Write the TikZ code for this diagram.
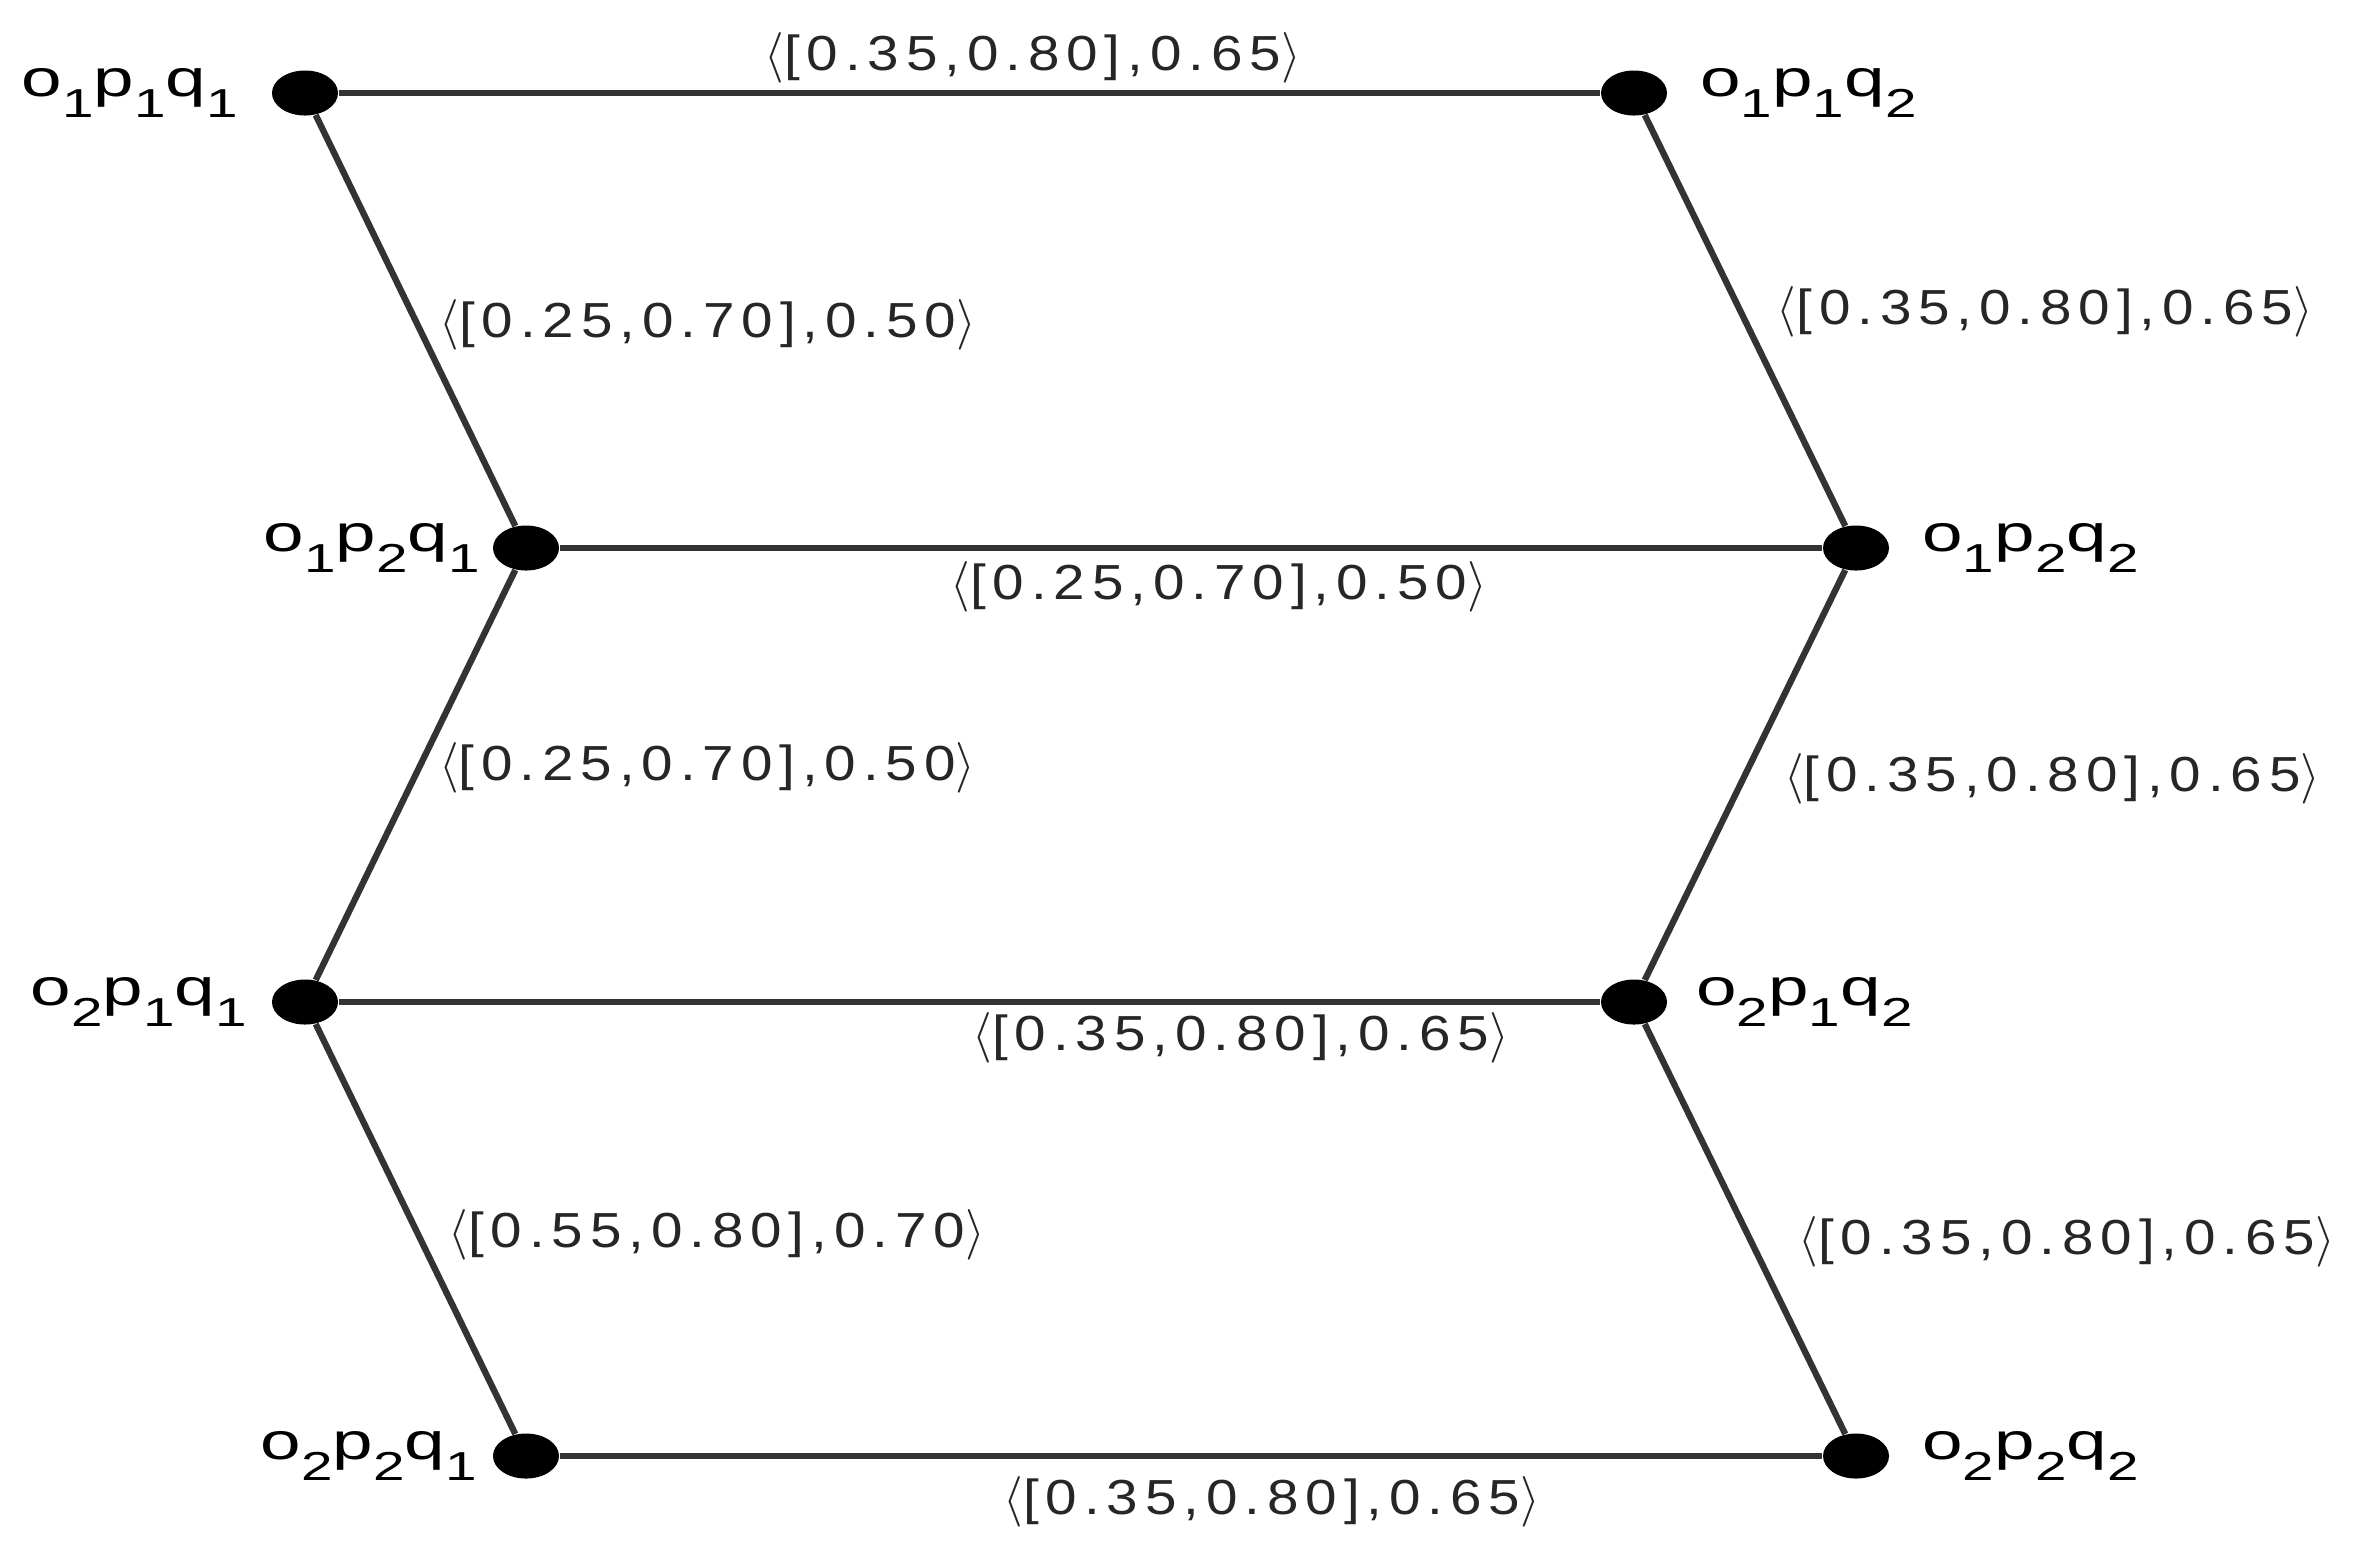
\documentclass[tikz,border=0pt]{standalone}
\usepackage{fontspec}
\setmainfont{Liberation Sans}
\newfontfamily\namefont[FakeStretch=1.4,LetterSpace=20]{Liberation Sans}
\newfontfamily\weightfont[FakeStretch=1.15,LetterSpace=14]{Liberation Sans}
\usetikzlibrary{positioning,shapes.geometric}

\newcommand{\lsub}[1]{\raisebox{-0.21cm}{\fontsize{11.5pt}{12pt}\selectfont #1}}
\newcommand{\vname}[3]{o\lsub{#1}p\lsub{#2}q\lsub{#3}}
\newcommand{\wt}[3]{\ensuremath{\langle}[#1,#2],#3\ensuremath{\rangle}}

\begin{document}
\begin{tikzpicture}[x=0.01cm,y=-0.01cm,node distance=0.3cm,
    vertex node/.style={ellipse,fill=black,inner sep=0pt,minimum width=0.66cm,minimum height=0.45cm},
    name node/.style={inner sep=0pt,font=\namefont\fontsize{14.8pt}{16pt}\selectfont},
    weight label/.style={inner sep=0pt,text=black!85,font=\weightfont\fontsize{14pt}{15pt}\selectfont},
    link/.style={draw=black!80,line width=1.8pt}]

  \useasboundingbox (0,0) rectangle (2357,1550);

  % vertices
  \node[vertex node] (o1p1q1) at (305,93) {};
  \node[vertex node] (o1p1q2) at (1634,93) {};
  \node[vertex node] (o1p2q1) at (526,548) {};
  \node[vertex node] (o1p2q2) at (1856,548) {};
  \node[vertex node] (o2p1q1) at (305,1002) {};
  \node[vertex node] (o2p1q2) at (1634,1002) {};
  \node[vertex node] (o2p2q1) at (526,1456) {};
  \node[vertex node] (o2p2q2) at (1856,1456) {};

  % vertex names
  \node[name node,left=0.33cm of o1p1q1] (n111) {\vname{1}{1}{1}};
  \node[name node,right=0.32cm of o1p1q2] (n112) {\vname{1}{1}{2}};
  \node[name node,left=0.12cm of o1p2q1] (n121) {\vname{1}{2}{1}};
  \node[name node,right=0.32cm of o1p2q2] (n122) {\vname{1}{2}{2}};
  \node[name node,left=0.24cm of o2p1q1] (n211) {\vname{2}{1}{1}};
  \node[name node,right=0.28cm of o2p1q2] (n212) {\vname{2}{1}{2}};
  \node[name node,left=0.15cm of o2p2q1] (n221) {\vname{2}{2}{1}};
  \node[name node,right=0.32cm of o2p2q2] (n222) {\vname{2}{2}{2}};

  % horizontal links
  \draw[link] (o1p1q1) -- node[weight label,pos=0.55,yshift=0.35cm] (w1) {\wt{0.35}{0.80}{0.65}} (o1p1q2);
  \draw[link] (o1p2q1) -- node[weight label,pos=0.522,yshift=-0.39cm] (w4) {\wt{0.25}{0.70}{0.50}} (o1p2q2);
  \draw[link] (o2p1q1) -- node[weight label,pos=0.715,yshift=-0.36cm] (w7) {\wt{0.35}{0.80}{0.65}} (o2p1q2);
  \draw[link] (o2p2q1) -- node[weight label,pos=0.564,yshift=-0.46cm] (w10) {\wt{0.35}{0.80}{0.65}} (o2p2q2);

  % zigzag links
  \draw[link] (o1p1q1) -- node[weight label,pos=0.51,anchor=west,xshift=0.19cm] (w2) {\wt{0.25}{0.70}{0.50}} (o1p2q1);
  \draw[link] (o1p2q1) -- node[weight label,pos=0.483,anchor=west,xshift=0.17cm] (w5) {\wt{0.25}{0.70}{0.50}} (o2p1q1);
  \draw[link] (o2p1q1) -- node[weight label,pos=0.514,anchor=west,xshift=0.27cm] (w8) {\wt{0.55}{0.80}{0.70}} (o2p2q1);
  \draw[link] (o1p1q2) -- node[weight label,pos=0.478,anchor=west,xshift=0.33cm] (w3) {\wt{0.35}{0.80}{0.65}} (o1p2q2);
  \draw[link] (o1p2q2) -- node[weight label,pos=0.51,anchor=west,xshift=0.38cm] (w6) {\wt{0.35}{0.80}{0.65}} (o2p1q2);
  \draw[link] (o2p1q2) -- node[weight label,pos=0.532,anchor=west,xshift=0.44cm] (w9) {\wt{0.35}{0.80}{0.65}} (o2p2q2);

\end{tikzpicture}
\end{document}
